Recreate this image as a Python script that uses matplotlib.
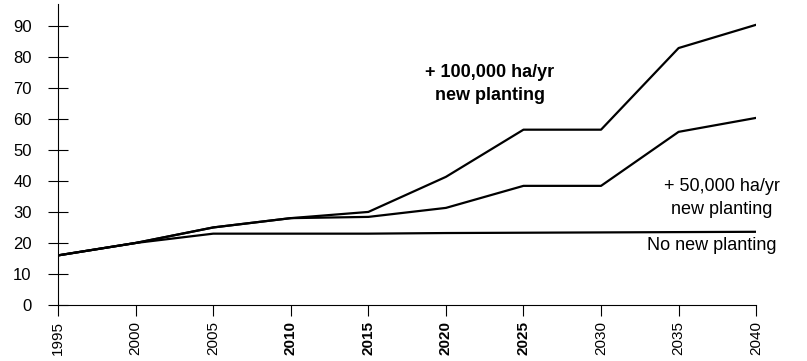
import numpy as np
import matplotlib.pyplot as plt

plt.rcParams['font.family'] = ['Liberation Sans', 'DejaVu Sans']

years = [1995, 2000, 2005, 2010, 2015, 2020, 2025, 2030, 2035, 2040]
plus_100k = [16, 20, 25, 28, 30, 41.3, 56.5, 56.5, 82.8, 90.3]
plus_50k = [16, 20, 25, 28, 28.4, 31.3, 38.4, 38.4, 55.8, 60.3]
no_new = [16, 20, 23, 23, 23, 23.2, 23.3, 23.4, 23.5, 23.6]
bold_years = [2010, 2015, 2020, 2025]

fig = plt.figure(figsize=(8.07, 3.61), dpi=100)
ax = fig.add_axes([0.072, 0.155, 0.865, 0.834])

for s in (plus_100k, plus_50k, no_new):
    ax.plot(years, s, color='black', linewidth=1.6)

ax.set_xlim(1995, 2040)
ax.set_ylim(0, 97)
ax.set_yticks(np.arange(0, 91, 10))
ax.set_xticks(years)
ax.set_xticklabels([str(y) for y in years], rotation=90)
for lab, y in zip(ax.get_xticklabels(), years):
    if y in bold_years:
        lab.set_fontweight('bold')

ax.spines['top'].set_visible(False)
ax.spines['right'].set_visible(False)
ax.tick_params(axis='y', direction='inout', length=14, labelsize=12, pad=12)
ax.tick_params(axis='x', direction='out', length=8, labelsize=11)

fig.text(490 / 807, 1 - 84 / 361, '+ 100,000 ha/yr\nnew planting', fontsize=13,
         fontweight='bold', ha='center', va='center', linespacing=1.5)
fig.text(722 / 807, 1 - 198 / 361, '+ 50,000 ha/yr\nnew planting', fontsize=13,
         ha='center', va='center', linespacing=1.5)
fig.text(712 / 807, 1 - 246 / 361, 'No new planting', fontsize=13,
         ha='center', va='center')

plt.savefig('out.png', dpi=100)
